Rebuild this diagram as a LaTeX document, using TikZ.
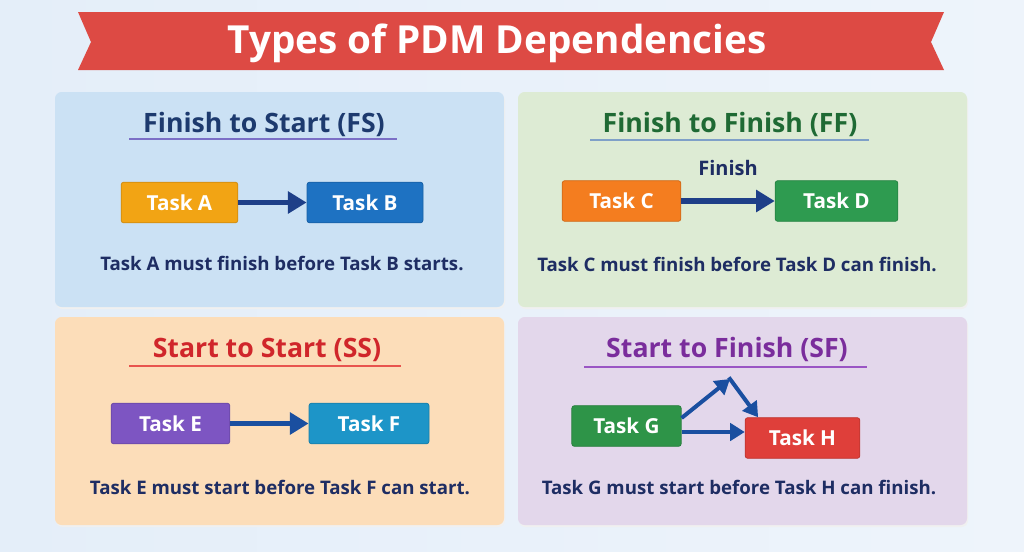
\documentclass[tikz,border=0pt]{standalone}
\usepackage{fontspec}
\setmainfont{Open Sans}
\usepackage{xcolor}
\usetikzlibrary{arrows.meta, positioning}
\definecolor{bgblue}{HTML}{E4EEF9}
\definecolor{bgbluelight}{HTML}{EEF4FB}
\definecolor{bannerred}{HTML}{DD4A44}
\definecolor{fsfill}{HTML}{CBE1F4}
\definecolor{fstitle}{HTML}{1D3A6E}
\definecolor{fsline}{HTML}{7B6FC6}
\definecolor{fffill}{HTML}{DDEBD4}
\definecolor{fftitle}{HTML}{1F6A34}
\definecolor{ffline}{HTML}{7FA0C8}
\definecolor{ssfill}{HTML}{FCDDB9}
\definecolor{sstitle}{HTML}{D0262B}
\definecolor{ssline}{HTML}{E8544E}
\definecolor{sffill}{HTML}{E3D7EB}
\definecolor{sftitle}{HTML}{7A2D9C}
\definecolor{sfline}{HTML}{9A55C4}
\definecolor{ktaskA}{HTML}{F2A414}
\definecolor{ktaskB}{HTML}{1E72C2}
\definecolor{ktaskC}{HTML}{F47D1F}
\definecolor{ktaskD}{HTML}{2E9B50}
\definecolor{ktaskE}{HTML}{7D55C2}
\definecolor{ktaskF}{HTML}{1D95C8}
\definecolor{ktaskG}{HTML}{2E9448}
\definecolor{ktaskH}{HTML}{DF3F3A}
\definecolor{knavy}{HTML}{1E3F88}
\definecolor{kblue}{HTML}{1A4FA0}
\definecolor{ktext}{HTML}{1E2D63}

\begin{document}
\begin{tikzpicture}[x=0.75pt, y=-0.75pt,
  taskbox/.style={fill=#1, draw=#1!85!black, line width=0.6pt, rounded corners=2pt,
    minimum height=30.5pt, inner sep=0pt, text=white, font=\fontsize{15.5}{18}\selectfont\bfseries},
  paneltitle/.style={anchor=base, font=\fontsize{20}{24}\selectfont\bfseries},
  desc/.style={anchor=base, text=ktext, font=\fontsize{14}{17}\selectfont\bfseries},
  flow/.style={draw=#1, line width=4pt, -{Triangle[length=14pt, width=16pt]}},
  flow/.default=knavy,
  sflow/.style={draw=kblue, line width=3pt, -{Triangle[length=11pt, width=13pt]}}]

  %% Background
  \shade[left color=bgblue, right color=bgbluelight] (0,0) rectangle (1024,551);

  %% Banner
  \fill[bannerred] (78,12) -- (944,12) -- (931,42) -- (944,70) -- (78,70) -- (91,42) -- cycle;
  \node[anchor=base, text=white, font=\fontsize{29}{34}\selectfont\bfseries] (banner) at (497,53)
    {Types of PDM Dependencies};

  %% Panels
  \foreach \xa/\ya/\xb/\yb/\col in {55/92/504/307/fsfill, 518/92/967/307/fffill,
                                    55/317/504/525/ssfill, 518/317/967/525/sffill}{
    \fill[black!6, rounded corners=5pt] (\xa+1,\ya+2) rectangle (\xb+1,\yb+2);
    \fill[\col, rounded corners=5pt] (\xa,\ya) rectangle (\xb,\yb);
  }

  %% Finish to Start
  \node[paneltitle, text=fstitle] (fs) at (264,132) {Finish to Start (FS)};
  \draw[fsline, line width=0.8pt] (129,139) -- (397,139);
  \node[taskbox=ktaskA, minimum width=87.5pt] (taskA) at (179.5,202.5) {Task A};
  \node[taskbox=ktaskB, minimum width=87pt] (taskB) at (365,202.5) {Task B};
  \draw[flow] (taskA) -- (taskB);
  \node[desc] (fsdesc) at (282,270) {Task A must finish before Task B starts.};

  %% Finish to Finish
  \node[paneltitle, text=fftitle] (ff) at (730,132) {Finish to Finish (FF)};
  \draw[ffline, line width=0.8pt] (590,140) -- (869,140);
  \node[taskbox=ktaskC, minimum width=89pt] (taskC) at (621.5,201) {Task C};
  \node[taskbox=ktaskD, minimum width=92pt] (taskD) at (836.5,201) {Task D};
  \draw[flow] (taskC) -- node[above=14pt, text=ktext, font=\fontsize{15}{18}\selectfont\bfseries] (finish) {Finish} (taskD);
  \node[desc] (ffdesc) at (737,271) {Task C must finish before Task D can finish.};

  %% Start to Start
  \node[paneltitle, text=sstitle] (ss) at (267,357) {Start to Start (SS)};
  \draw[ssline, line width=0.8pt] (129,366) -- (401,366);
  \node[taskbox=ktaskE, minimum width=89pt] (taskE) at (170.5,423.5) {Task E};
  \node[taskbox=ktaskF, minimum width=90pt] (taskF) at (369,423.5) {Task F};
  \draw[flow=kblue] (taskE) -- (taskF);
  \node[desc] (ssdesc) at (280,494) {Task E must start before Task F can start.};

  %% Start to Finish
  \node[paneltitle, text=sftitle] (sf) at (727,357) {Start to Finish (SF)};
  \draw[sfline, line width=0.8pt] (584,367) -- (867,367);
  \node[taskbox=ktaskG, minimum width=82pt] (taskG) at (626.5,426) {Task G};
  \node[taskbox=ktaskH, minimum width=86pt] (taskH) at (802.5,438) {Task H};
  \coordinate (apex) at (730,379);
  \draw[sflow] ([yshift=6pt]taskG.east) -- (apex);
  \draw[sflow, shorten <=-1.5pt] (apex) -- ([xshift=10pt]taskH.north west);
  \draw[sflow] ([yshift=-4.5pt]taskG.east) -- ([yshift=4.5pt]taskH.west);
  \node[desc] (sfdesc) at (739,494) {Task G must start before Task H can finish.};

\end{tikzpicture}
\end{document}
